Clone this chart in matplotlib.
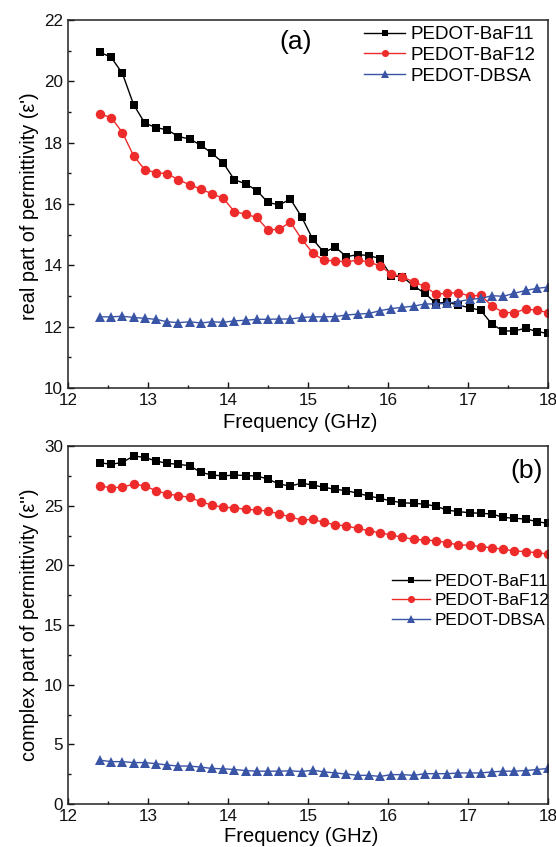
import matplotlib
matplotlib.use('Agg')
import matplotlib.pyplot as plt
from matplotlib.ticker import MultipleLocator

plt.rcParams['font.family'] = ['Liberation Sans', 'DejaVu Sans']

# ---------------- data ----------------
freq = [12.40, 12.54, 12.68, 12.82, 12.96, 13.10, 13.24, 13.38, 13.52, 13.66,
        13.80, 13.94, 14.08, 14.22, 14.36, 14.50, 14.64, 14.78, 14.92, 15.06,
        15.20, 15.34, 15.48, 15.62, 15.76, 15.90, 16.04, 16.18, 16.32, 16.46,
        16.60, 16.74, 16.88, 17.02, 17.16, 17.30, 17.44, 17.58, 17.72, 17.86,
        18.00]

series_names = ['PEDOT-BaF11', 'PEDOT-BaF12', 'PEDOT-DBSA']

# (a) real part of permittivity
real_baf11 = [20.95, 20.78, 20.26, 19.24, 18.64, 18.49, 18.42, 18.20, 18.12, 17.92,
              17.65, 17.34, 16.79, 16.66, 16.44, 16.05, 15.97, 16.16, 15.58, 14.85,
              14.42, 14.60, 14.28, 14.35, 14.32, 14.22, 13.66, 13.63, 13.33, 13.09,
              12.76, 12.80, 12.70, 12.62, 12.53, 12.08, 11.86, 11.86, 11.95, 11.84,
              11.78]
real_baf12 = [18.93, 18.82, 18.33, 17.57, 17.12, 17.02, 16.99, 16.79, 16.63, 16.49,
              16.33, 16.19, 15.75, 15.67, 15.56, 15.15, 15.18, 15.41, 14.86, 14.40,
              14.16, 14.15, 14.11, 14.17, 14.11, 13.98, 13.72, 13.63, 13.46, 13.31,
              13.06, 13.09, 13.11, 13.00, 13.02, 12.68, 12.46, 12.46, 12.57, 12.54,
              12.46]
real_dbsa = [12.32, 12.32, 12.34, 12.30, 12.27, 12.24, 12.16, 12.13, 12.16, 12.12,
             12.16, 12.14, 12.19, 12.21, 12.24, 12.24, 12.25, 12.25, 12.30, 12.32,
             12.32, 12.33, 12.38, 12.41, 12.43, 12.52, 12.59, 12.63, 12.67, 12.74,
             12.74, 12.76, 12.82, 12.89, 12.92, 13.01, 12.99, 13.09, 13.18, 13.25,
             13.29]

# (b) complex part of permittivity
imag_baf11 = [28.60, 28.46, 28.63, 29.16, 29.05, 28.74, 28.55, 28.46, 28.35, 27.79,
              27.57, 27.49, 27.57, 27.52, 27.49, 27.23, 26.80, 26.65, 26.88, 26.73,
              26.54, 26.37, 26.26, 26.04, 25.81, 25.61, 25.40, 25.24, 25.20, 25.12,
              24.95, 24.63, 24.50, 24.41, 24.36, 24.30, 24.02, 23.94, 23.88, 23.66,
              23.52]
imag_baf12 = [26.65, 26.50, 26.55, 26.81, 26.65, 26.26, 25.98, 25.84, 25.70, 25.33,
              25.05, 24.86, 24.83, 24.69, 24.64, 24.55, 24.30, 24.05, 23.80, 23.85,
              23.60, 23.40, 23.30, 23.10, 22.90, 22.73, 22.54, 22.35, 22.18, 22.12,
              22.06, 21.90, 21.70, 21.70, 21.56, 21.48, 21.34, 21.22, 21.14, 21.06,
              20.95]
imag_dbsa = [3.67, 3.55, 3.55, 3.47, 3.47, 3.38, 3.27, 3.18, 3.18, 3.09,
             2.98, 2.95, 2.89, 2.80, 2.75, 2.75, 2.75, 2.78, 2.72, 2.83,
             2.69, 2.60, 2.51, 2.40, 2.40, 2.31, 2.46, 2.46, 2.40, 2.54,
             2.54, 2.54, 2.60, 2.60, 2.60, 2.69, 2.75, 2.75, 2.80, 2.89,
             2.98]

x_ticks = [12, 13, 14, 15, 16, 17, 18]

# ---------------- style ----------------
colors = ['#000000', '#ee2b2b', '#3a55a6']
markers = ['s', 'o', '^']
msizes = [6.0, 6.8, 7.2]

W, H = 556, 847
fig = plt.figure(figsize=(W / 100, H / 100), dpi=100)

def px_axes(left, top, right, bottom):
    return fig.add_axes([left / W, 1 - bottom / H, (right - left) / W, (bottom - top) / H])

ax1 = px_axes(68, 20, 548, 388)
ax2 = px_axes(68, 446, 548, 804)

for ax, ys in ((ax1, (real_baf11, real_baf12, real_dbsa)),
               (ax2, (imag_baf11, imag_baf12, imag_dbsa))):
    for y, c, m, ms, name in zip(ys, colors, markers, msizes, series_names):
        ax.plot(freq, y, color=c, marker=m, markersize=ms, linewidth=1.0,
                markeredgewidth=0, label=name)
    ax.set_xlim(12, 18)
    ax.set_xticks(x_ticks)
    ax.xaxis.set_minor_locator(MultipleLocator(0.5))
    ax.tick_params(which='both', direction='in', top=False, right=False,
                   labelsize=12.3, colors='#111111')
    ax.tick_params(which='major', length=4.5, width=1.0, pad=3.5)
    ax.tick_params(which='minor', length=2.5, width=1.0)
    for s in ax.spines.values():
        s.set_linewidth(1.1)
        s.set_color('#222222')

ax1.set_ylim(10, 22)
ax1.yaxis.set_major_locator(MultipleLocator(2))
ax1.yaxis.set_minor_locator(MultipleLocator(1))
ax2.set_ylim(0, 30)
ax2.yaxis.set_major_locator(MultipleLocator(5))
ax2.yaxis.set_minor_locator(MultipleLocator(2.5))

# legends
ax1.legend(loc='upper left', bbox_to_anchor=(364 / W, 1 - 26 / H),
           bbox_transform=fig.transFigure, frameon=False, fontsize=13.5,
           handlelength=2.2, handletextpad=0.3, labelspacing=0.2,
           borderpad=0, borderaxespad=0, markerscale=0.75)
ax2.legend(loc='upper left', bbox_to_anchor=(392 / W, 1 - 574 / H),
           bbox_transform=fig.transFigure, frameon=False, fontsize=12.4,
           handlelength=2.2, handletextpad=0.3, labelspacing=0.25,
           borderpad=0, borderaxespad=0, markerscale=0.75)

# labels
fig.text(30 / W, 1 - 206 / H, "real part of permittivity (ε')", rotation=90,
         ha='center', va='center', fontsize=14.3)
fig.text(30 / W, 1 - 625 / H, "complex part of permittivity (ε'')", rotation=90,
         ha='center', va='center', fontsize=14.3)
fig.text(300 / W, 1 - 422 / H, 'Frequency (GHz)', ha='center', va='center', fontsize=14.5)
fig.text(301 / W, 1 - 836 / H, 'Frequency (GHz)', ha='center', va='center', fontsize=14.5)
fig.text(296 / W, 1 - 42 / H, '(a)', ha='center', va='center', fontsize=19)
fig.text(527 / W, 1 - 471 / H, '(b)', ha='center', va='center', fontsize=19)

fig.savefig('out.png', dpi=100)
